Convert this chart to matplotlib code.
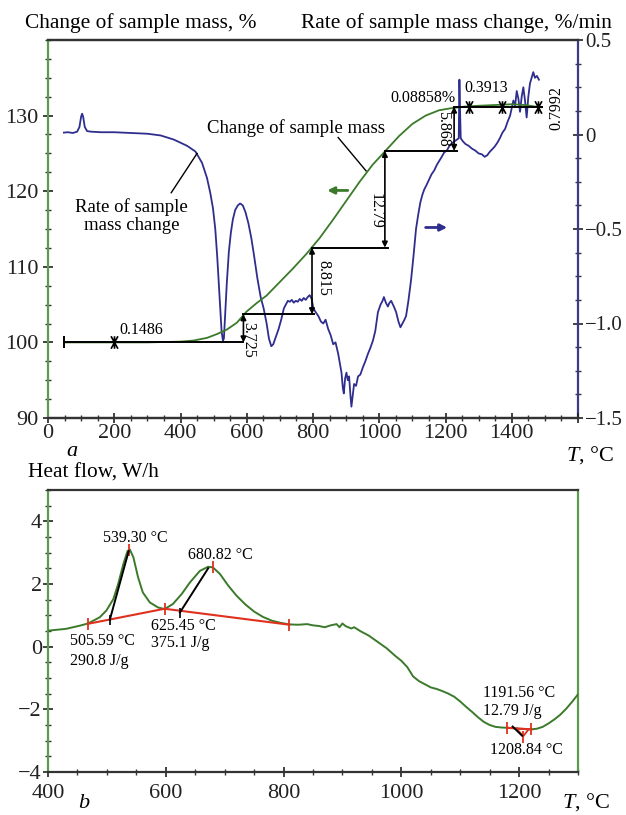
import numpy as np
import matplotlib
matplotlib.use("Agg")
import matplotlib.pyplot as plt
from matplotlib.path import Path
from matplotlib.ticker import MultipleLocator, FixedLocator

plt.rcParams['font.family'] = ['Liberation Serif', 'DejaVu Serif']
plt.rcParams['mathtext.fontset'] = 'custom'
plt.rcParams['mathtext.it'] = 'Liberation Serif:italic'
plt.rcParams['mathtext.rm'] = 'Liberation Serif'

# ---------------- data: panel a ----------------
T_mass = [50, 100, 200, 300, 350, 400, 440, 480, 510, 540, 570, 600, 630, 660, 700,
          740, 780, 820, 860, 900, 940, 980, 1020, 1060, 1100, 1140, 1180, 1220,
          1260, 1300, 1350, 1400, 1440, 1470, 1490]
mass = [100, 100, 100, 100, 100.05, 100.1, 100.25, 100.6, 101.1, 101.7, 102.6, 104.1,
        105.2, 106.2, 108.0, 109.8, 111.7, 113.8, 116.2, 118.7, 121.2, 123.5, 125.4,
        127.3, 128.9, 130.0, 130.7, 131.0, 131.2, 131.3, 131.4, 131.5, 131.4, 131.2, 131.1]

T_rate = [48, 60, 75, 88, 95, 100, 103, 106, 111, 118, 130, 160, 200, 250, 300, 340, 380,
          420, 445, 465, 480, 490, 498, 505, 511, 516, 520, 524, 528, 531, 535, 540, 546,
          552, 558, 565, 573, 580, 588, 596, 605, 614, 622, 632, 642, 651, 660, 667, 674,
          680, 688, 696, 704, 712, 718, 724, 730, 736, 742, 748, 754, 760, 766, 772, 778,
          784, 790, 796, 801, 808, 816, 824, 831, 838, 846, 853, 861, 868, 876, 881, 886,
          890, 893, 897, 901, 905, 909, 913, 916, 920, 924, 930, 936, 943, 951, 958, 966,
          973, 981, 988, 996, 1004, 1010, 1014, 1020, 1026, 1031, 1036, 1044, 1051, 1058,
          1064, 1070, 1076, 1081, 1088, 1096, 1103, 1111, 1118, 1124, 1130, 1136, 1142,
          1150, 1158, 1166, 1174, 1181, 1188, 1196, 1204, 1212, 1220, 1228, 1236, 1240,
          1242, 1244, 1246, 1252, 1260, 1270, 1280, 1290, 1300, 1310, 1318, 1326, 1332,
          1340, 1348, 1356, 1364, 1372, 1380, 1388, 1395, 1400, 1405, 1410, 1415, 1420,
          1425, 1430, 1435, 1440, 1445, 1450, 1455, 1460, 1465, 1470, 1476, 1482]
rate = [0.010, 0.012, 0.008, 0.015, 0.040, 0.095, 0.110, 0.095, 0.040, 0.018, 0.015,
        0.012, 0.012, 0.008, 0.004, -0.005, -0.027, -0.060, -0.090, -0.150, -0.230,
        -0.310, -0.390, -0.500, -0.650, -0.800, -0.930, -1.040, -1.090, -1.080, -0.950,
        -0.780, -0.620, -0.520, -0.450, -0.400, -0.375, -0.365, -0.375, -0.410, -0.470,
        -0.550, -0.640, -0.760, -0.860, -0.920, -1.000, -1.080, -1.120, -1.110, -1.070,
        -1.030, -0.980, -0.920, -0.900, -0.880, -0.885, -0.875, -0.890, -0.880, -0.885,
        -0.870, -0.880, -0.865, -0.875, -0.860, -0.850, -0.870, -0.920, -0.940, -0.960,
        -0.990, -1.000, -0.980, -1.030, -1.060, -1.110, -1.100, -1.160, -1.210, -1.260,
        -1.340, -1.370, -1.290, -1.260, -1.300, -1.280, -1.380, -1.440, -1.380, -1.320,
        -1.330, -1.280, -1.270, -1.230, -1.200, -1.160, -1.130, -1.090, -1.040, -0.940,
        -0.900, -0.880, -0.860, -0.890, -0.910, -0.890, -0.880, -0.910, -0.940, -0.990,
        -1.020, -1.000, -0.980, -0.960, -0.880, -0.770, -0.650, -0.500, -0.420, -0.360,
        -0.320, -0.290, -0.270, -0.240, -0.210, -0.190, -0.160, -0.140, -0.120, -0.095,
        -0.085, -0.060, -0.045, -0.035, -0.025, -0.020, 0.290, 0.120, -0.020, -0.035,
        -0.050, -0.060, -0.075, -0.085, -0.100, -0.105, -0.118, -0.110, -0.095, -0.080,
        -0.065, -0.045, -0.020, 0.010, 0.030, 0.070, 0.100, 0.140, 0.180, 0.150, 0.230,
        0.190, 0.120, 0.200, 0.250, 0.180, 0.090, 0.200, 0.270, 0.300, 0.330, 0.300,
        0.310, 0.290]

mass_base = 100.0
mass_steps = [3.725, 8.815, 12.79, 5.868]
step_T = [590, 797, 1017, 1226]
step_labels = ['3.725', '8.815', '12.79', '5.868']

# ---------------- data: panel b ----------------
T_hf = [400, 431, 454, 468, 488, 499, 511, 519, 528, 535, 539, 545, 553, 561, 573, 587,
        598, 612, 627, 641, 658, 672, 680, 692, 706, 720, 735, 750, 765, 780, 795, 810,
        825, 840, 850, 860, 870, 880, 890, 895, 900, 905, 915, 920, 930, 945, 960, 975,
        990, 1000, 1010, 1020, 1030, 1040, 1050, 1060, 1070, 1080, 1090, 1100, 1110,
        1120, 1130, 1140, 1150, 1160, 1170, 1180, 1190, 1200, 1210, 1220, 1230, 1240,
        1250, 1260, 1270, 1280, 1290, 1300]
hf = [0.51, 0.57, 0.67, 0.74, 0.94, 1.15, 1.52, 1.99, 2.64, 3.05, 3.10, 2.85, 2.21,
      1.73, 1.41, 1.25, 1.20, 1.36, 1.68, 2.05, 2.42, 2.55, 2.53, 2.32, 1.95, 1.63,
      1.35, 1.12, 0.95, 0.83, 0.76, 0.71, 0.70, 0.72, 0.68, 0.66, 0.62, 0.68, 0.72,
      0.62, 0.74, 0.66, 0.58, 0.62, 0.50, 0.35, 0.15, -0.05, -0.30, -0.45, -0.65,
      -0.95, -1.10, -1.20, -1.30, -1.35, -1.42, -1.50, -1.60, -1.75, -1.92, -2.08,
      -2.25, -2.40, -2.50, -2.56, -2.58, -2.59, -2.60, -2.62, -2.63, -2.64, -2.62,
      -2.56, -2.45, -2.32, -2.17, -1.98, -1.76, -1.52]

base_T = [468, 598, 810]
base_hf = [0.73, 1.21, 0.70]
peak_T = [537, 680]
peak_hf = [3.10, 2.53]
peak_labels = ['539.30 °C', '680.82 °C']

GREEN = '#3b7a2a'
GREEN_SP = '#5c9a4c'
NAVY = '#2e2e8e'
NAVY_SP = '#3b3b8c'
RED = '#e0301e'

TICK_FS = 16
TITLE_FS = 15.4
ANN_FS = 13.5
SMALL_FS = 11.5

fig = plt.figure(figsize=(6.26, 8.15), dpi=100)
W, H = 626.0, 815.0
ax1 = fig.add_axes([48 / W, 1 - 418 / H, 530 / W, 378 / H])
ax2 = ax1.twinx()
ax1.set_zorder(ax2.get_zorder() + 1)
ax1.patch.set_visible(False)

# rate curve
ax2.plot(T_rate, rate, color=NAVY, lw=1.3)
ax2.set_ylim(-1.5, 0.5)
ax2.set_yticks([-1.5, -1.0, -0.5, 0, 0.5])
ax2.set_yticklabels(['\u22121.5', '\u22121.0', '\u22120.5', '0', '0.5'])
ax2.yaxis.set_minor_locator(MultipleLocator(0.125))

# mass curve
ax1.plot(T_mass, mass, color=GREEN, lw=1.3)
ax1.set_xlim(0, 1600)
ax1.set_ylim(90, 140)
ax1.set_yticks([90, 100, 110, 120, 130])
ax1.yaxis.set_minor_locator(MultipleLocator(2.5))
ax1.set_xticks(range(0, 1601, 200))
ax1.set_xticklabels([str(v) for v in range(0, 1401, 200)] + [''])
ax1.xaxis.set_minor_locator(MultipleLocator(50))

levels = [mass_base]
for s in mass_steps:
    levels.append(levels[-1] + s)

# horizontal step lines
seg_x = [(48, step_T[0]), (step_T[0], 803), (step_T[1], 1026), (step_T[2], 1236), (step_T[3], 1492)]
for (x0, x1), lv in zip(seg_x, levels):
    ax1.plot([x0, x1], [lv, lv], color='k', lw=1.4, zorder=5)
ax1.plot([48], [levels[0]], marker='|', color='k', ms=9, mew=1.4, zorder=5)

# vertical double arrows
for t, lo, hi in zip(step_T, levels[:-1], levels[1:]):
    ax1.annotate('', xy=(t, hi), xytext=(t, lo),
                 arrowprops=dict(arrowstyle='<|-|>', color='k', lw=1.2,
                                 mutation_scale=8, shrinkA=0, shrinkB=0), zorder=6)
lab_pos = [(606, 100.4), (831, 108.5), (990, 117.4), (1194, 128.2)]
for (x, y), lab in zip(lab_pos, step_labels):
    ax1.text(x, y, lab, rotation=270, ha='center', va='center', fontsize=SMALL_FS)

# X markers
xm = Path([(-0.55, 1), (0.55, -1), (0.55, 1), (-0.55, -1), (0, 1), (0, -1)],
          [Path.MOVETO, Path.LINETO, Path.MOVETO, Path.LINETO, Path.MOVETO, Path.LINETO])
ax1.plot([200], [levels[0]], ls='none', marker=xm, ms=9, color='k', mew=1.2, zorder=6)
ax1.plot([1272, 1371, 1479], [levels[-1]] * 3, ls='none', marker=xm, ms=9, color='k',
         mew=1.2, zorder=6)

ax1.text(216, 100.6, '0.1486', fontsize=SMALL_FS, ha='left', va='bottom')
ax1.text(1230, 132.3, '0.08858%', fontsize=SMALL_FS, ha='right', va='center')
ax1.text(1256, 133.7, '0.3913', fontsize=SMALL_FS, ha='left', va='center')
ax1.text(1535, 131.0, '0.7992', fontsize=SMALL_FS, rotation=90, ha='center', va='center')

# annotations
ax1.text(750, 128.3, 'Change of sample mass', fontsize=ANN_FS, ha='center', va='center')
ax1.plot([876, 960], [127.1, 122.7], color='k', lw=1.0)
ax1.text(252, 116.7, 'Rate of sample\nmass change', fontsize=ANN_FS, ha='center',
         va='center', linespacing=1.1)
ax1.plot([372, 450], [119.8, 125.0], color='k', lw=1.0)
ax1.annotate('', xy=(843, 120.1), xytext=(905, 120.1),
             arrowprops=dict(arrowstyle='-|>', color=GREEN, lw=2, mutation_scale=10,
                             shrinkA=0, shrinkB=0))
ax1.annotate('', xy=(1205, 115.2), xytext=(1140, 115.2),
             arrowprops=dict(arrowstyle='-|>', color=NAVY, lw=2, mutation_scale=10,
                             shrinkA=0, shrinkB=0))

for ax in (ax1, ax2):
    ax.spines['top'].set_color('#333333')
    ax.spines['bottom'].set_color('#333333')
    ax.spines['top'].set_linewidth(1.6)
    ax.spines['bottom'].set_linewidth(1.6)
ax1.spines['left'].set_color(GREEN_SP)
ax1.spines['left'].set_linewidth(1.6)
ax2.spines['right'].set_color(NAVY_SP)
ax2.spines['right'].set_linewidth(1.6)
ax2.spines['left'].set_visible(False)
ax1.spines['right'].set_visible(False)

for ax in (ax1, ax2):
    ax.tick_params(which='major', direction='inout', length=7, width=1.2,
                   labelsize=TICK_FS, colors='#222222')
    ax.tick_params(which='minor', direction='inout', length=4, width=1.0, colors='#333333')
ax1.tick_params(axis='x', pad=1)
ax2.tick_params(axis='y', labelsize=15, pad=1.5)

fig.text(72 / W, 1 - 451 / H, 'a', fontsize=TICK_FS, style='italic', ha='center', va='center')
ax1.text(1635, 86.6, '$T$, °C', fontsize=TICK_FS, ha='center', va='top', clip_on=False)
fig.text(25 / W, 1 - 23 / H, 'Change of sample mass, %', fontsize=TITLE_FS, ha='left',
         va='center')
fig.text(612 / W, 1 - 23 / H, 'Rate of sample mass change, %/min', fontsize=TITLE_FS,
         ha='right', va='center')

# ---------------- panel b ----------------
ax3 = fig.add_axes([48 / W, 1 - 772 / H, 530 / W, 282 / H])
ax3.plot(T_hf, hf, color=GREEN, lw=1.4, zorder=3)
ax3.set_xlim(400, 1300)
ax3.set_ylim(-4, 5)
ax3.set_xticks([400, 600, 800, 1000, 1200])
ax3.xaxis.set_minor_locator(MultipleLocator(50))
ax3.set_yticks([-4, -2, 0, 2, 4])
ax3.set_yticklabels(['\u22124', '\u22122', '0', '2', '4'])
ax3.yaxis.set_minor_locator(MultipleLocator(0.5))

ax3.plot(base_T, base_hf, color=RED, lw=1.5, zorder=4, marker='|', ms=9, mew=1.3)
ax3.plot(peak_T, peak_hf, ls='none', color=RED, marker='|', ms=9, mew=1.3, zorder=5)
ax3.plot([505, 537], [0.86, 3.05], color='k', lw=1.4, zorder=5)
ax3.plot([624, 672], [1.09, 2.50], color='k', lw=1.4, zorder=5)
ax3.plot([505, 624], [0.86, 1.09], ls='none', marker='|', color='k', ms=7, mew=1.2, zorder=5)
ax3.plot([1180, 1221], [-2.59, -2.64], color=RED, lw=1.5, marker='|', ms=9, mew=1.3, zorder=5)
ax3.plot([1196, 1207, 1216], [-2.62, -2.86, -2.64], color=RED, lw=1.3, zorder=5)
ax3.plot([1207], [-2.88], color=RED, marker='|', ms=8, mew=1.3, zorder=5)
ax3.plot([1189, 1205], [-2.55, -2.84], color='k', lw=1.4, zorder=6)

ax3.text(549, 3.48, peak_labels[0], fontsize=SMALL_FS, ha='center', va='center')
ax3.text(693, 2.93, peak_labels[1], fontsize=SMALL_FS, ha='center', va='center')
ax3.text(437, 0.17, '505.59 °C', fontsize=SMALL_FS, ha='left', va='center')
ax3.text(437, -0.45, '290.8 J/g', fontsize=SMALL_FS, ha='left', va='center')
ax3.text(575, 0.67, '625.45 °C', fontsize=SMALL_FS, ha='left', va='center')
ax3.text(575, 0.12, '375.1 J/g', fontsize=SMALL_FS, ha='left', va='center')
ax3.text(1139, -1.47, '1191.56 °C', fontsize=SMALL_FS, ha='left', va='center')
ax3.text(1139, -2.04, '12.79 J/g', fontsize=SMALL_FS, ha='left', va='center')
ax3.text(1150, -3.30, '1208.84 °C', fontsize=SMALL_FS, ha='left', va='center')

ax3.spines['top'].set_color('#333333')
ax3.spines['bottom'].set_color('#333333')
for s in ('left', 'right'):
    ax3.spines[s].set_color(GREEN_SP)
for s in ax3.spines.values():
    s.set_linewidth(1.6)
ax3.tick_params(which='major', direction='inout', length=7, width=1.2,
                labelsize=TICK_FS, colors='#222222', pad=1)
ax3.tick_params(which='minor', direction='inout', length=4, width=1.0, colors='#333333')
ax3.tick_params(axis='x', pad=5)

ax3.text(1314, -4.6, '$T$, °C', fontsize=TICK_FS, ha='center', va='top', clip_on=False)
fig.text(28 / W, 1 - 473 / H, 'Heat flow, W/h', fontsize=TITLE_FS, ha='left', va='center')
fig.text(84 / W, 1 - 803 / H, 'b', fontsize=TICK_FS, style='italic', ha='center', va='center')

fig.savefig('out.png', dpi=100)
